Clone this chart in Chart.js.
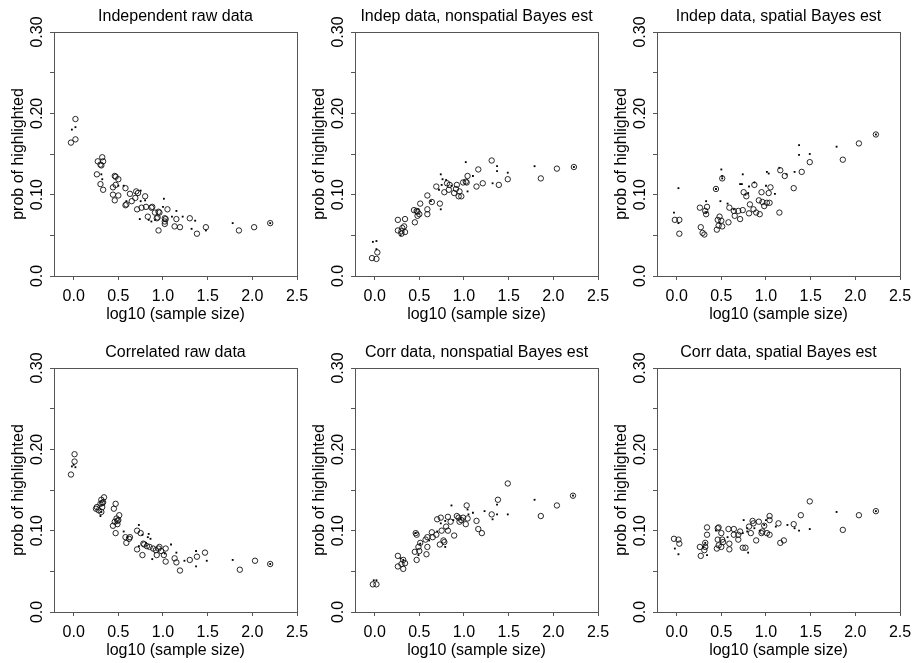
<!DOCTYPE html>
<html>
<head>
<meta charset="utf-8">
<title>highlighted probability vs sample size</title>
<script src="https://cdn.jsdelivr.net/npm/chart.js@4/dist/chart.umd.min.js"></script>
<style>
  body { margin: 0; background: #fff; }
  #wrap { position: relative; width: 912px; height: 663px; }
  #wrap canvas { position: absolute; }
</style>
</head>
<body>
<div id="wrap"></div>
<script>
// panel titles, in reading order
var panelTitles = [
  'Independent raw data', 'Indep data, nonspatial Bayes est', 'Indep data, spatial Bayes est',
  'Correlated raw data', 'Corr data, nonspatial Bayes est', 'Corr data, spatial Bayes est'
];

var xTickStep = 0.5;
var yTickStep = 0.05;
var yLabelValues = [0, 0.1, 0.2, 0.3];
var yLabelText = ['0.0', '0.10', '0.20', '0.30'];

// [log10 sample size, prob]; circles and small dots
var indRawCircles = [[0.02,0.193],[-0.03,0.164],[0.02,0.168],
  [0.32,0.146],[0.27,0.141],[0.33,0.141],[0.31,0.136],[0.30,0.137],[0.26,0.125],[0.30,0.113],[0.33,0.106],
  [0.47,0.122],[0.46,0.123],[0.50,0.119],[0.44,0.109],[0.47,0.112],[0.44,0.100],[0.50,0.099],[0.46,0.093],
  [0.58,0.108],[0.63,0.101],[0.58,0.087],[0.59,0.088],[0.65,0.092],
  [0.70,0.104],[0.72,0.102],[0.69,0.096],[0.71,0.082],[0.80,0.098],[0.76,0.084],
  [0.81,0.085],[0.83,0.073],[0.87,0.084],[0.88,0.085],
  [0.91,0.078],[0.96,0.078],[0.95,0.079],[0.93,0.071],[0.94,0.072],[0.95,0.056],
  [1.03,0.070],[1.02,0.071],[1.02,0.064],[1.05,0.082],[1.02,0.067],
  [1.15,0.070],[1.13,0.061],[1.19,0.060],
  [1.30,0.071],[1.38,0.052],[1.48,0.060],
  [1.85,0.056],[2.02,0.060],[2.20,0.065]];
var indRawDots = [[0.02,0.183],[-0.02,0.180],
  [0.31,0.125],[0.32,0.119],[0.50,0.111],[0.56,0.111],[0.59,0.092],
  [0.75,0.105],[0.75,0.092],[0.74,0.070],[0.80,0.093],[0.87,0.067],[0.84,0.069],
  [0.91,0.069],[1.00,0.085],[1.01,0.095],
  [1.10,0.073],[1.15,0.080],[1.22,0.073],
  [1.36,0.068],[1.32,0.058],[1.48,0.056],[1.78,0.065],[2.20,0.065]];

var indNonspCircles = [[0.03,0.029],[-0.03,0.022],[0.02,0.021],
  [0.26,0.069],[0.34,0.070],[0.26,0.056],[0.31,0.059],[0.33,0.061],[0.30,0.052],[0.34,0.054],[0.30,0.055],
  [0.44,0.081],[0.47,0.080],[0.48,0.079],[0.50,0.076],[0.45,0.066],[0.51,0.089],[0.48,0.074],
  [0.59,0.099],[0.59,0.082],[0.59,0.076],[0.64,0.091],[0.73,0.089],
  [0.69,0.110],[0.78,0.103],[0.81,0.114],[0.83,0.106],[0.84,0.112],
  [0.89,0.102],[0.92,0.112],[0.94,0.098],[0.91,0.107],[0.97,0.098],[0.95,0.104],
  [0.99,0.115],[1.02,0.116],[1.04,0.123],[1.03,0.115],
  [1.16,0.131],[1.14,0.110],[1.21,0.114],
  [1.31,0.142],[1.39,0.112],[1.49,0.119],
  [1.86,0.120],[2.04,0.132],[2.23,0.134]];
var indNonspDots = [[-0.02,0.042],[0.02,0.043],[0.02,0.033],
  [0.29,0.050],[0.49,0.082],[0.63,0.092],[0.74,0.082],
  [0.74,0.125],[0.76,0.119],[0.72,0.106],[0.80,0.118],[0.75,0.112],[0.86,0.111],
  [1.02,0.140],[1.04,0.104],[1.10,0.123],
  [1.37,0.135],[1.37,0.129],[1.32,0.114],[1.49,0.127],
  [1.79,0.135],[2.23,0.134]];

var indSpatCircles = [[-0.02,0.069],[0.03,0.069],[0.03,0.052],
  [0.26,0.084],[0.34,0.085],[0.32,0.080],[0.33,0.076],[0.27,0.060],[0.31,0.051],[0.29,0.053],
  [0.51,0.120],[0.44,0.107],[0.48,0.073],[0.50,0.068],[0.46,0.069],[0.47,0.062],[0.51,0.061],[0.45,0.057],
  [0.59,0.084],[0.64,0.080],[0.65,0.074],[0.58,0.066],
  [0.71,0.070],[0.69,0.080],[0.74,0.081],[0.75,0.103],[0.78,0.098],[0.82,0.088],[0.81,0.077],
  [0.87,0.112],[0.86,0.082],[0.89,0.078],[0.93,0.076],
  [0.92,0.093],[0.95,0.103],[0.96,0.091],[0.98,0.086],[1.03,0.102],[1.05,0.109],[1.04,0.090],[1.01,0.090],[1.15,0.078],
  [1.16,0.130],[1.21,0.123],[1.31,0.108],[1.40,0.128],[1.49,0.140],
  [1.86,0.143],[2.04,0.163],[2.23,0.174]];
var indSpatDots = [[-0.03,0.078],[0.02,0.108],[0.02,0.065],
  [0.33,0.092],[0.33,0.078],
  [0.50,0.131],[0.51,0.123],[0.51,0.120],[0.44,0.107],[0.49,0.092],[0.48,0.065],
  [0.57,0.089],[0.64,0.082],
  [0.74,0.125],[0.71,0.113],[0.73,0.113],[0.81,0.110],[0.77,0.100],[0.80,0.102],[0.87,0.115],
  [1.01,0.128],[1.03,0.126],[1.00,0.111],[1.10,0.101],
  [1.15,0.133],[1.23,0.125],[1.32,0.128],[1.37,0.161],[1.37,0.149],[1.49,0.150],
  [1.79,0.159],[2.23,0.174]];

var corRawCircles = [[0.01,0.194],[0.01,0.185],[-0.03,0.169],
  [0.34,0.141],[0.31,0.138],[0.33,0.135],[0.32,0.134],[0.30,0.133],[0.26,0.129],[0.25,0.127],[0.32,0.129],[0.31,0.123],[0.28,0.125],
  [0.47,0.133],[0.45,0.127],[0.51,0.119],[0.48,0.115],[0.50,0.113],[0.49,0.112],[0.46,0.111],[0.49,0.108],[0.44,0.106],[0.47,0.097],
  [0.58,0.092],[0.62,0.090],[0.63,0.092],[0.59,0.085],
  [0.71,0.100],[0.75,0.097],[0.71,0.077],[0.77,0.070],[0.79,0.083],[0.78,0.084],[0.82,0.081],
  [0.85,0.080],[0.89,0.078],[0.92,0.076],[0.95,0.078],[0.96,0.080],[0.93,0.070],[0.98,0.075],[1.03,0.078],[1.03,0.062],[1.01,0.070],
  [1.13,0.066],[1.15,0.061],[1.19,0.051],[1.30,0.064],[1.38,0.068],[1.47,0.073],
  [1.86,0.052],[2.03,0.063],[2.20,0.059]];
var corRawDots = [[0.00,0.181],[-0.02,0.179],[0.02,0.178],
  [0.31,0.123],[0.30,0.118],
  [0.56,0.099],[0.60,0.092],
  [0.73,0.107],[0.77,0.095],[0.84,0.096],[0.83,0.092],[0.86,0.090],[0.73,0.081],[0.81,0.085],
  [0.88,0.065],[1.02,0.072],[1.09,0.083],
  [1.15,0.073],[1.24,0.063],[1.37,0.075],[1.37,0.056],[1.49,0.063],
  [1.78,0.064],[2.20,0.059]];

var corNonspCircles = [[-0.02,0.034],[0.02,0.034],
  [0.26,0.069],[0.32,0.064],[0.34,0.060],[0.26,0.056],[0.32,0.053],[0.30,0.059],
  [0.46,0.097],[0.47,0.095],[0.51,0.085],[0.49,0.080],[0.45,0.074],[0.50,0.075],[0.47,0.064],[0.59,0.080],[0.58,0.071],
  [0.57,0.089],[0.59,0.092],[0.64,0.098],[0.65,0.092],[0.69,0.095],[0.73,0.083],[0.77,0.088],[0.78,0.086],[0.75,0.100],
  [0.70,0.114],[0.74,0.116],[0.82,0.117],[0.80,0.105],[0.82,0.100],[0.85,0.111],[0.89,0.094],
  [0.92,0.118],[0.94,0.116],[0.95,0.111],[0.97,0.113],[1.03,0.131],[0.99,0.116],[1.04,0.115],[1.02,0.108],
  [1.14,0.112],[1.16,0.102],[1.20,0.097],[1.31,0.120],[1.38,0.138],[1.49,0.158],
  [1.86,0.118],[2.04,0.131],[2.22,0.143]];
var corNonspDots = [[-0.01,0.039],[0.02,0.039],
  [0.29,0.066],[0.32,0.064],
  [0.46,0.097],[0.51,0.084],[0.49,0.070],[0.61,0.088],
  [0.70,0.099],[0.79,0.080],[0.79,0.112],[0.86,0.131],[0.74,0.109],[0.88,0.113],[0.96,0.115],
  [1.04,0.126],[1.05,0.120],[1.10,0.122],
  [1.23,0.124],[1.32,0.114],[1.37,0.120],[1.37,0.132],[1.49,0.120],
  [1.79,0.138],[2.22,0.143]];

var corSpatCircles = [[-0.03,0.090],[0.02,0.089],[0.03,0.084],
  [0.34,0.104],[0.34,0.095],[0.26,0.080],[0.32,0.080],[0.32,0.085],[0.31,0.076],[0.27,0.069],
  [0.46,0.103],[0.47,0.104],[0.50,0.097],[0.51,0.089],[0.46,0.089],[0.52,0.086],[0.47,0.082],[0.45,0.078],[0.50,0.080],
  [0.58,0.102],[0.64,0.102],[0.59,0.084],[0.59,0.077],[0.64,0.095],[0.71,0.099],[0.69,0.095],[0.69,0.089],[0.74,0.079],[0.77,0.079],
  [0.81,0.105],[0.86,0.109],[0.85,0.112],[0.83,0.097],[0.89,0.088],
  [0.92,0.111],[0.95,0.097],[0.98,0.106],[0.96,0.099],[1.01,0.097],[1.04,0.095],[1.04,0.118],[1.04,0.113],
  [1.14,0.109],[1.16,0.085],[1.20,0.088],[1.31,0.108],[1.39,0.119],[1.49,0.136],
  [1.86,0.101],[2.04,0.119],[2.23,0.124]];
var corSpatDots = [[-0.02,0.078],[0.02,0.071],
  [0.32,0.085],[0.34,0.070],[0.30,0.080],
  [0.44,0.100],[0.57,0.092],
  [0.74,0.097],[0.80,0.073],[0.75,0.113],[0.79,0.103],[0.79,0.099],[0.87,0.103],
  [0.93,0.100],[0.98,0.107],[1.00,0.113],[1.11,0.105],[1.24,0.107],
  [1.32,0.103],[1.37,0.100],[1.49,0.102],
  [1.79,0.123],[2.23,0.124]];

var panelCircles = [indRawCircles, indNonspCircles, indSpatCircles, corRawCircles, corNonspCircles, corSpatCircles];
var panelDots = [indRawDots, indNonspDots, indSpatDots, corRawDots, corNonspDots, corSpatDots];

var axisColor = '#555';
var fontFamily = '"Liberation Sans", Arial, Helvetica, sans-serif';

Chart.defaults.font.family = fontFamily;
Chart.defaults.font.size = 16;
Chart.defaults.color = '#000';

function toPoints(pairs) {
  return pairs.map(function (p) { return { x: p[0], y: p[1] }; });
}

// box round the plot and the y labels, which R writes parallel to the axis
var framePlugin = {
  id: 'frame',
  afterDraw: function (chart) {
    var ctx = chart.ctx, a = chart.chartArea, y = chart.scales.y;
    ctx.save();
    ctx.strokeStyle = axisColor;
    ctx.lineWidth = 1;
    ctx.strokeRect(Math.round(a.left) + 0.5, Math.round(a.top) + 0.5,
      Math.round(a.right - a.left), Math.round(a.bottom - a.top));
    ctx.fillStyle = '#000';
    ctx.font = '16px ' + fontFamily;
    ctx.textAlign = 'center';
    ctx.textBaseline = 'middle';
    for (var i = 0; i < yLabelValues.length; i++) {
      ctx.save();
      ctx.translate(y.right - 16, y.getPixelForValue(yLabelValues[i]));
      ctx.rotate(-Math.PI / 2);
      ctx.fillText(yLabelText[i], 0, 0);
      ctx.restore();
    }
    ctx.restore();
  }
};

function showPanel(i) {
  var canvas = document.createElement('canvas');
  canvas.width = 320;
  canvas.height = 327;
  canvas.style.left = [0, 301, 603][i % 3] + 'px';
  canvas.style.top = (i < 3 ? 0 : 336) + 'px';
  document.getElementById('wrap').appendChild(canvas);

  new Chart(canvas, {
    type: 'scatter',
    data: {
      datasets: [
        {
          data: toPoints(panelCircles[i]),
          pointStyle: 'circle',
          pointRadius: 2.7,
          borderWidth: 0.9,
          borderColor: '#111',
          backgroundColor: 'rgba(0,0,0,0)'
        },
        {
          data: toPoints(panelDots[i]),
          pointStyle: 'rect',
          pointRadius: 1.3,
          borderWidth: 0,
          backgroundColor: '#000'
        }
      ]
    },
    options: {
      responsive: false,
      animation: false,
      events: [],
      layout: { padding: { left: 0, right: 23, top: 0, bottom: 0 } },
      plugins: {
        legend: { display: false },
        tooltip: { enabled: false },
        title: {
          display: true,
          text: panelTitles[i],
          fullSize: false,
          color: '#000',
          font: { size: 16, weight: 'normal' },
          padding: { top: 7.4, bottom: 5.4 }
        }
      },
      scales: {
        x: {
          type: 'linear',
          min: -0.22,
          max: 2.5,
          border: { display: false },
          grid: { drawOnChartArea: false, drawTicks: true, tickLength: 4, color: axisColor },
          ticks: {
            stepSize: xTickStep,
            includeBounds: false,
            autoSkip: false,
            maxRotation: 0,
            padding: 7.4,
            color: '#000',
            callback: function (v) { return v.toFixed(1); }
          },
          title: { display: true, text: 'log10 (sample size)', color: '#000', padding: { top: 0, bottom: 2.4 } },
          afterFit: function (s) { s.height = 51; }
        },
        y: {
          type: 'linear',
          min: 0,
          max: 0.3,
          border: { display: false },
          grid: { drawOnChartArea: false, drawTicks: true, tickLength: 4, color: axisColor },
          ticks: { stepSize: yTickStep, display: false },
          title: { display: true, text: 'prob of highlighted', color: '#000', padding: { top: 9.4, bottom: 0 } },
          afterFit: function (s) { s.width = 54; }
        }
      }
    },
    plugins: [framePlugin]
  });
}

for (var i = 0; i < panelTitles.length; i++) {
  showPanel(i);
}
</script>
</body>
</html>
